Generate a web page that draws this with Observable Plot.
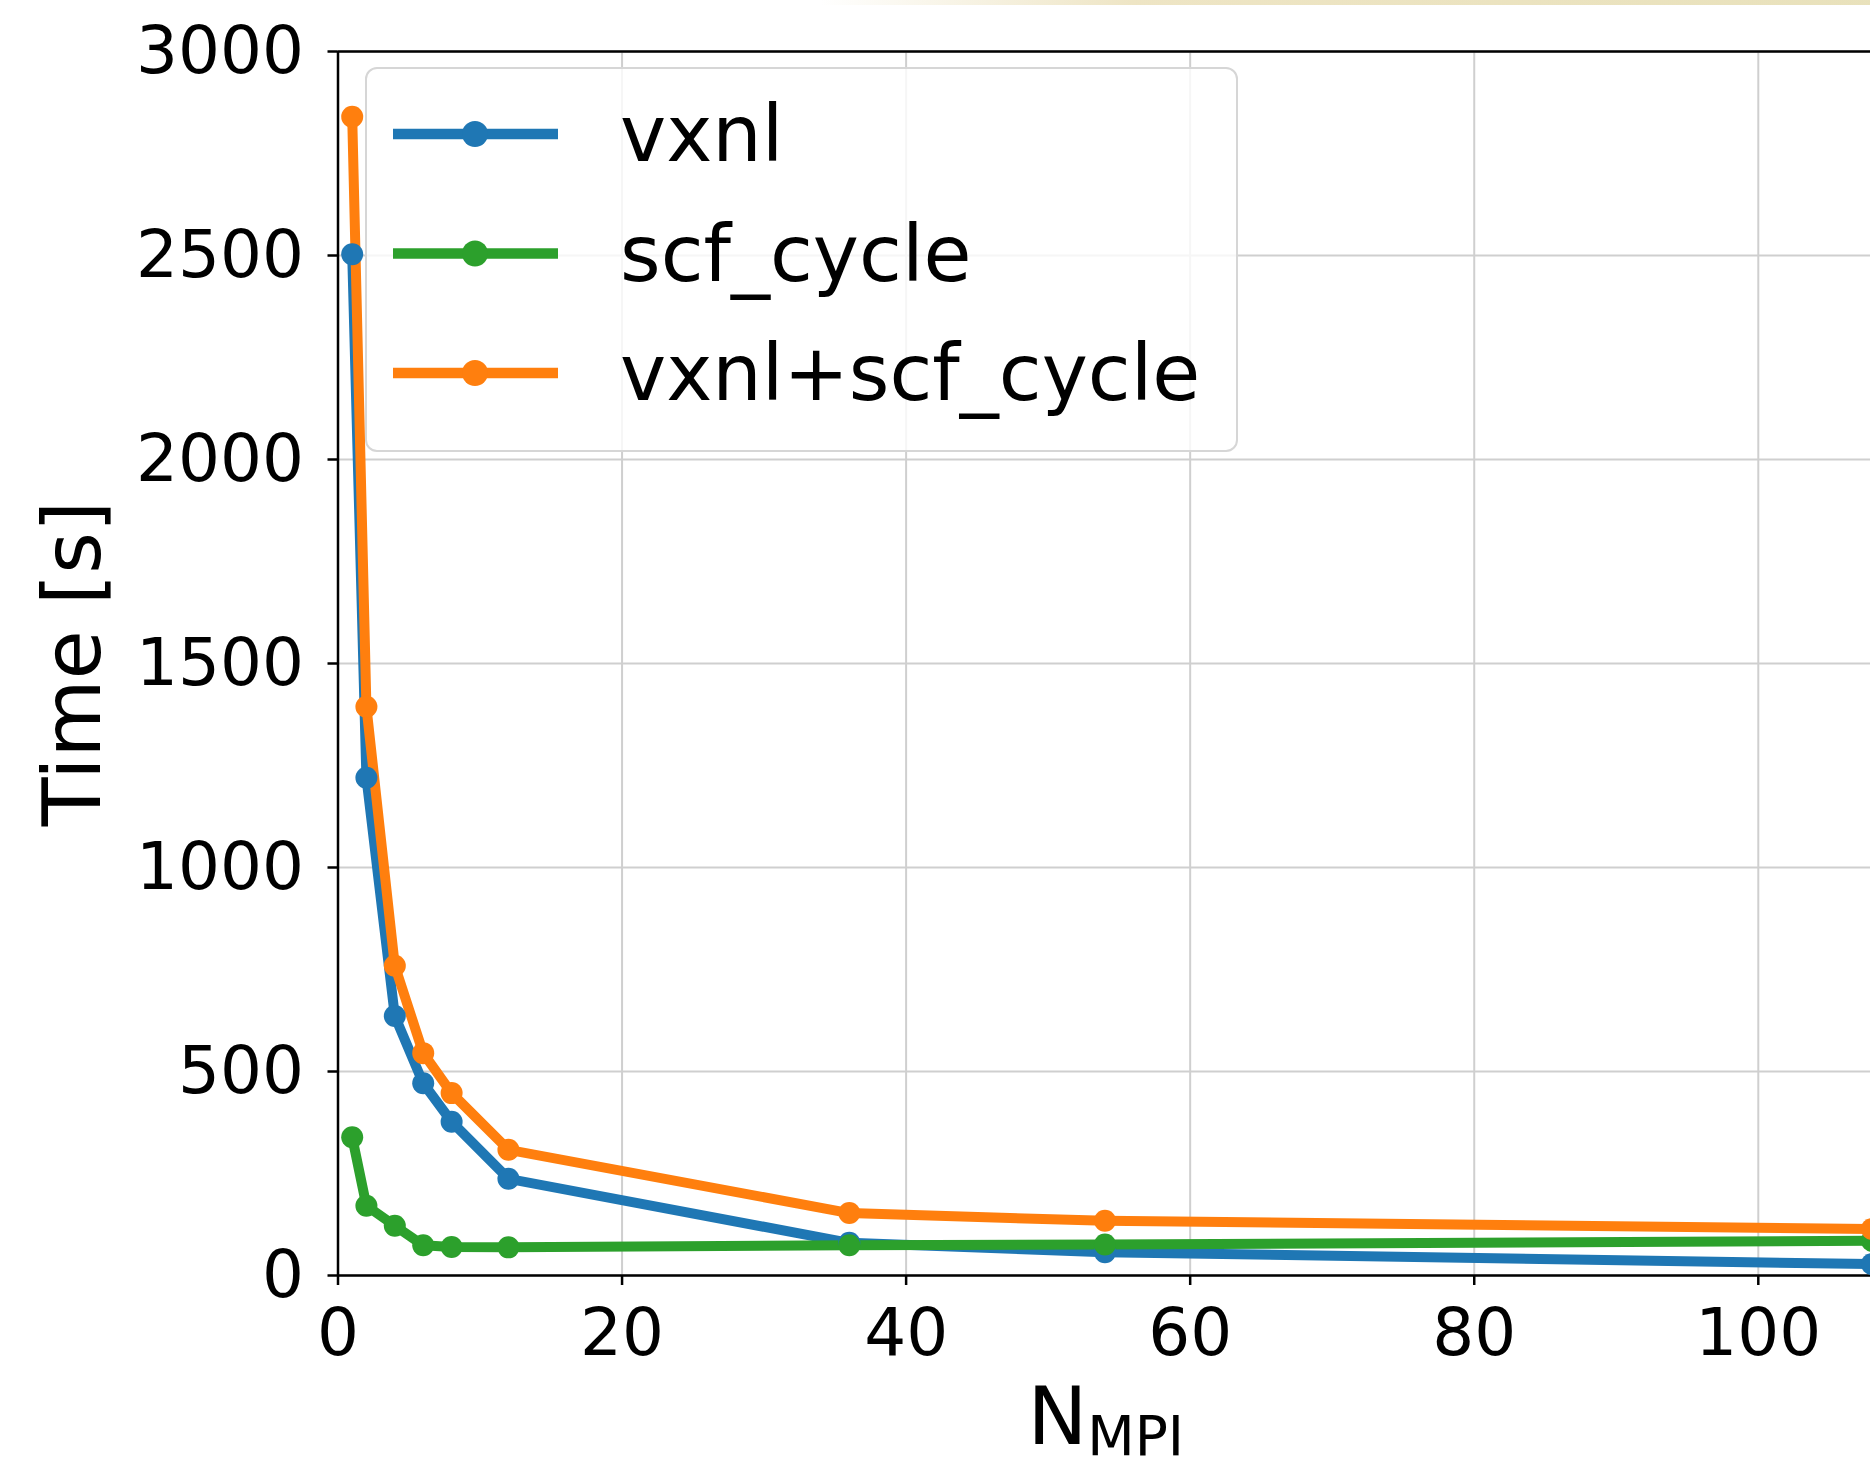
<!DOCTYPE html>
<html>
<head>
<meta charset="utf-8">
<script src="https://cdn.jsdelivr.net/npm/d3@7"></script>
<script src="https://cdn.jsdelivr.net/npm/@observablehq/plot@0.6"></script>
<style>
  html, body { margin: 0; padding: 0; background: #fff; overflow: hidden; }
  #wrap { position: relative; width: 1870px; height: 1461px; }
  #strip { position: absolute; left: 820px; top: 0; width: 1050px; height: 5px; z-index: 2;
    background: linear-gradient(to right, rgba(240,230,200,0), rgba(236,226,190,0.9) 30%, rgba(230,222,180,0.9)); }
</style>
</head>
<body>
<div id="wrap"><div id="strip"></div><div id="chart"></div></div>
<script>
// Data
const nmpi = [1, 2, 4, 6, 8, 12, 36, 54, 108];
const vxnl = [2503, 1220, 636, 471, 377, 237, 80, 57, 28];
const scfCycle = [339, 171, 122, 74, 70, 69, 74, 76, 85];
const vxnlScf = [2840, 1394, 759, 545, 447, 308, 153, 134, 114];
const seriesNames = ["vxnl", "scf_cycle", "vxnl+scf_cycle"];
const seriesColors = ["#1f77b4", "#2ca02c", "#ff7f0e"];
const xTicks = [0, 20, 40, 60, 80, 100];
const yTicks = [0, 500, 1000, 1500, 2000, 2500, 3000];
const yLabel = "Time [s]";
const xLabelMain = "N";
const xLabelSub = "MPI";

const seriesValues = [vxnl, scfCycle, vxnlScf];
const rows = [];
seriesNames.forEach((name, i) => {
  nmpi.forEach((n, j) => rows.push({series: name, n, t: seriesValues[i][j]}));
});

const W = 1870, H = 1461;
const mL = 337.5, mT = 51, mB = 186, mR = 0;
const font = "DejaVu Sans";

const chart = Plot.plot({
  width: W,
  height: H,
  marginLeft: mL,
  marginTop: mT,
  marginBottom: mB,
  marginRight: mR,
  style: {fontFamily: font, fontSize: "66px", color: "#000", background: "transparent", overflow: "hidden"},
  x: {domain: [0, 107.9]},
  y: {domain: [0, 3000]},
  color: {domain: seriesNames, range: seriesColors},
  marks: [
    Plot.gridX(xTicks, {stroke: "#cfcfcf", strokeOpacity: 1, strokeWidth: 2}),
    Plot.gridY(yTicks, {stroke: "#cfcfcf", strokeOpacity: 1, strokeWidth: 2}),
    Plot.ruleY([0, 3000], {stroke: "#000", strokeWidth: 2.5}),
    Plot.ruleX([0], {stroke: "#000", strokeWidth: 2.5}),
    Plot.axisX({ticks: xTicks, tickSize: 10, tickPadding: 23, strokeWidth: 2.5, tickFormat: d => String(d), label: null, fontSize: 66}),
    Plot.axisY({ticks: yTicks, tickSize: 10, tickPadding: 24, strokeWidth: 2.5, tickFormat: d => String(d), label: null, fontSize: 66}),
    Plot.line(rows, {x: "n", y: "t", stroke: "series", z: "series", strokeWidth: 10, strokeLinejoin: "round", strokeLinecap: "round"}),
    Plot.dot(rows, {x: "n", y: "t", fill: "series", r: 11, stroke: null}),
    Plot.text([yLabel], {frameAnchor: "left", text: d => d, rotate: -90, dx: -264, fontSize: 80, lineAnchor: "middle", textAnchor: "middle"})
  ]
});
document.getElementById("chart").appendChild(chart);

const svg = d3.select(chart);
// x-axis label with subscript
const xl = svg.append("text")
  .attr("x", (mL + 1874) / 2)
  .attr("y", 1444)
  .attr("text-anchor", "middle")
  .attr("font-family", font)
  .attr("fill", "#000");
xl.append("tspan").attr("font-size", 80).text(xLabelMain);
xl.append("tspan").attr("font-size", 55).attr("dy", 11).text(xLabelSub);

// legend
const lg = svg.append("g");
lg.append("rect")
  .attr("x", 366).attr("y", 68).attr("width", 871).attr("height", 383)
  .attr("rx", 11).attr("fill", "#fff").attr("fill-opacity", 0.8)
  .attr("stroke", "#d6d6d6").attr("stroke-width", 2);
seriesNames.forEach((name, i) => {
  const cy = 134 + i * 119.5;
  lg.append("line").attr("x1", 393).attr("x2", 558).attr("y1", cy).attr("y2", cy)
    .attr("stroke", seriesColors[i]).attr("stroke-width", 10.5);
  lg.append("circle").attr("cx", 475).attr("cy", cy).attr("r", 13).attr("fill", seriesColors[i]);
  lg.append("text").attr("x", 620).attr("y", cy).attr("dy", "0.35em")
    .attr("text-anchor", "start")
    .attr("font-family", font).attr("font-size", 78).attr("fill", "#000").text(name);
});
</script>
</body>
</html>
